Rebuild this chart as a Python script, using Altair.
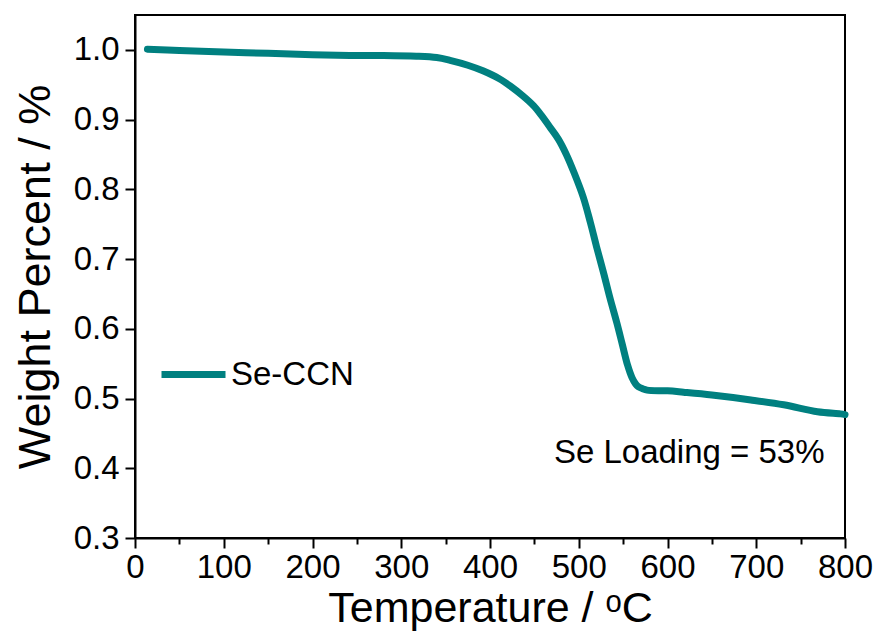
import altair as alt
import pandas as pd

# TGA curve of Se-CCN: temperature (°C) vs. normalised weight
temperature = [14, 50, 100, 150, 200, 242, 280, 317, 340, 355, 375, 392, 410,
               423, 437, 449, 458, 467, 477, 486, 495, 505, 513, 520, 528, 535,
               543, 549, 555, 560, 564, 567, 572, 577, 600, 618, 650, 694, 731,
               769, 795, 800]
weight = [1.001, 0.999, 0.997, 0.995, 0.993, 0.992, 0.992, 0.991, 0.989, 0.985,
          0.978, 0.970, 0.959, 0.948, 0.934, 0.920, 0.906, 0.890, 0.872, 0.850,
          0.823, 0.789, 0.753, 0.718, 0.680, 0.645, 0.608, 0.578, 0.548, 0.530,
          0.521, 0.517, 0.514, 0.512, 0.511, 0.509, 0.505, 0.498, 0.491, 0.481,
          0.478, 0.477]
series_name = "Se-CCN"

x_ticks = list(range(0, 801, 50))
y_ticks = [round(0.30 + 0.05 * i, 2) for i in range(15)]

note_text = ["Se Loading = 53%"]
note_x = [472]
note_y = [0.408]

FONT = "Liberation Sans"
TEAL = "#008080"

curve = pd.DataFrame({"T": temperature, "W": weight, "series": series_name})
note = pd.DataFrame({"T": note_x, "W": note_y, "label": note_text})

x_scale = alt.Scale(domain=[0, 800], nice=False, zero=False)
y_scale = alt.Scale(domain=[0.3, 1.05], nice=False, zero=False)

x_axis = alt.Axis(
    values=x_ticks,
    labelExpr="datum.value % 100 === 0 ? datum.label : ''",
    tickSize={"condition": {"test": "datum.value % 100 === 0", "value": 10}, "value": 6},
    title="Temperature / ᵒC",
    grid=False,
)
y_axis = alt.Axis(
    values=y_ticks,
    labelExpr="round(datum.value * 100) % 10 === 0 ? format(datum.value, '.1f') : ''",
    tickSize={"condition": {"test": "round(datum.value * 100) % 10 === 0", "value": 10}, "value": 6},
    title="Weight Percent / %",
    grid=False,
)

line = alt.Chart(curve).mark_line(
    strokeWidth=7, strokeCap="round", strokeJoin="round", interpolate="catmull-rom"
).encode(
    x=alt.X("T:Q", scale=x_scale, axis=x_axis),
    y=alt.Y("W:Q", scale=y_scale, axis=y_axis),
    color=alt.Color(
        "series:N",
        scale=alt.Scale(domain=[series_name], range=[TEAL]),
        legend=alt.Legend(
            title=None,
            orient="none",
            legendX=23,
            legendY=324,
            symbolType="stroke",
            symbolSize=4096,
            symbolStrokeWidth=7,
            labelFontSize=33,
            labelFont=FONT,
            labelColor="black",
            labelOffset=2,
            padding=0,
        ),
    ),
)

label = alt.Chart(note).mark_text(
    align="left", baseline="alphabetic", font=FONT, fontSize=33, color="black"
).encode(
    x=alt.X("T:Q", scale=x_scale),
    y=alt.Y("W:Q", scale=y_scale),
    text="label:N",
)

chart = (
    alt.layer(line, label)
    .properties(
        width=710,
        height=523,
        autosize=alt.AutoSizeParams(type="none"),
        padding={"left": 135, "top": 15, "right": 33, "bottom": 98},
    )
    .configure_view(stroke="black", strokeWidth=2)
    .configure_axis(
        domainColor="black",
        domainWidth=2,
        tickColor="black",
        tickWidth=2,
        labelFont=FONT,
        labelFontSize=33,
        labelColor="black",
        titleFont=FONT,
        titleFontWeight="normal",
        titleColor="black",
        labelFlush=False,
        labelOverlap=False,
    )
    .configure_axisX(labelPadding=3, titleFontSize=43, titlePadding=3)
    .configure_axisY(labelPadding=6, titleFontSize=45, titlePadding=15)
)

chart.save("out.html", embed_options={"renderer": "svg", "actions": False})
